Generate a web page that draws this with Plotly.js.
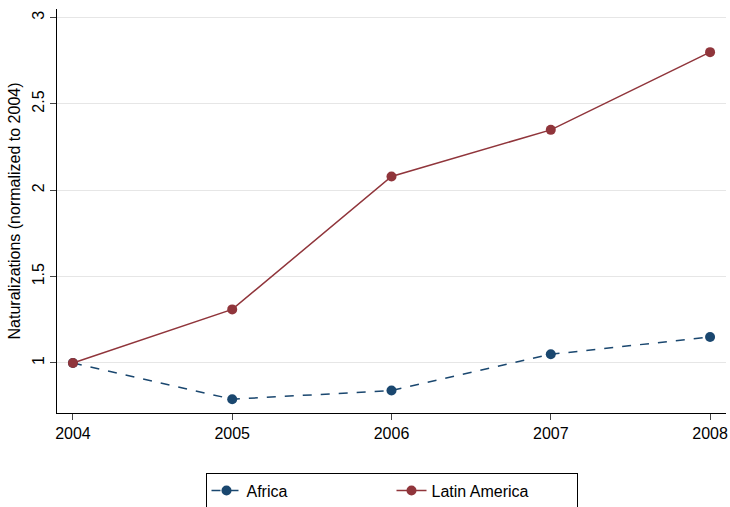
<!DOCTYPE html>
<html>
<head>
<script src="https://cdn.plot.ly/plotly-3.0.1.min.js"></script>
<style>body{margin:0;background:#fff}</style>
</head>
<body>
<div id="chart" style="width:730px;height:507px"></div>
<script>
const years = [2004, 2005, 2006, 2007, 2008];
const africa = [1.0, 0.79, 0.84, 1.05, 1.15];
const latinAmerica = [1.0, 1.31, 2.08, 2.35, 2.80];
const yTicks = [1, 1.5, 2, 2.5, 3];

const traces = [
  {
    name: 'Africa', x: years, y: africa, type: 'scatter', mode: 'lines+markers',
    line: { color: '#1a476f', width: 1.5, dash: 'dash' },
    marker: { color: '#1a476f', size: 10 }
  },
  {
    name: 'Latin America', x: years, y: latinAmerica, type: 'scatter', mode: 'lines+markers',
    line: { color: '#90353b', width: 1.5 },
    marker: { color: '#90353b', size: 10 }
  }
];

const layout = {
  width: 730, height: 507,
  margin: { l: 57, r: 4, t: 9, b: 94 },
  paper_bgcolor: '#fff', plot_bgcolor: '#fff',
  font: { family: 'Liberation Sans, Arial, sans-serif', size: 16, color: '#000' },
  showlegend: true,
  legend: {
    orientation: 'h', x: 0.5, xanchor: 'center', xref: 'paper',
    y: 0.068, yanchor: 'top', yref: 'container',
    bordercolor: '#000', borderwidth: 1, font: { size: 16 }, traceorder: 'normal',
    entrywidth: 140
  },
  xaxis: {
    range: [2003.9, 2008.1], tickvals: years, ticks: 'outside', ticklen: 6,
    showgrid: false, zeroline: false, showline: true, linecolor: '#000', linewidth: 1
  },
  yaxis: {
    range: [0.71, 3.05], tickvals: yTicks, ticktext: ['1', '1.5', '2', '2.5', '3'],
    tickangle: -90, ticks: 'outside', ticklen: 6,
    showgrid: true, gridcolor: '#e6e6e6', zeroline: false,
    showline: true, linecolor: '#000', linewidth: 1,
    title: { text: 'Naturalizations (normalized to 2004)', font: { size: 16 }, standoff: 4 }
  }
};

Plotly.newPlot('chart', traces, layout, { displayModeBar: false });
</script>
</body>
</html>
